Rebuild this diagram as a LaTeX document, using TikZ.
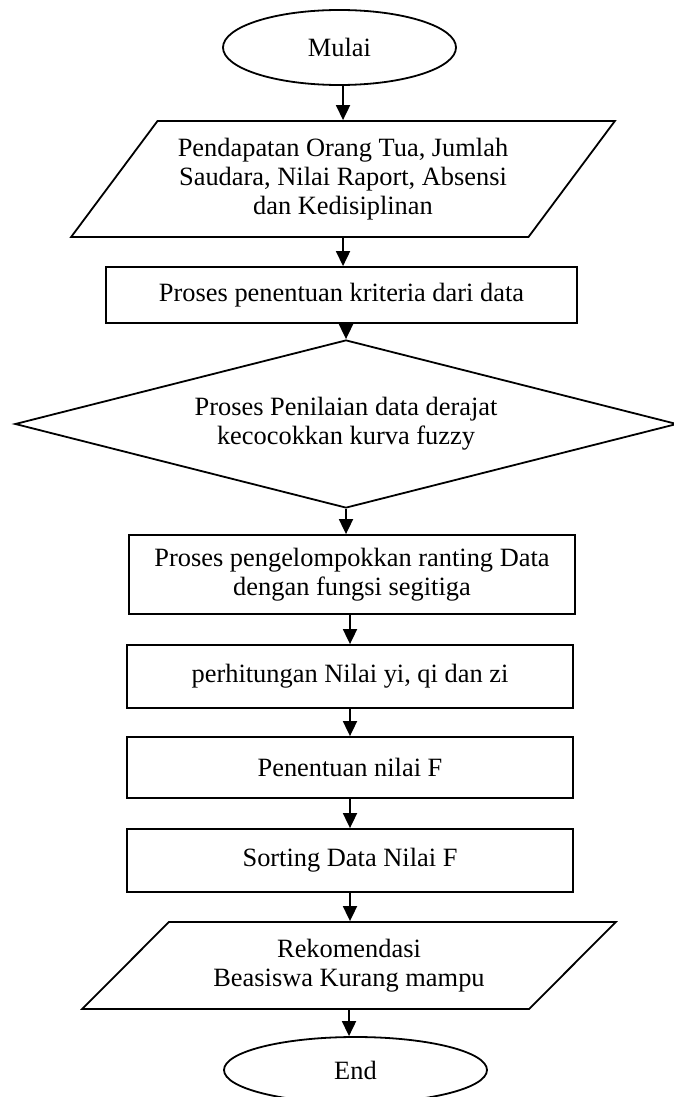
\documentclass[tikz,border=0pt]{standalone}
\usepackage{fontspec}
\setmainfont{Liberation Serif}
\usetikzlibrary{shapes.geometric,arrows.meta}
\begin{document}
\begin{tikzpicture}[x=1pt,y=-1pt]

 \tikzset{
      flowtxt/.style={font=\fontsize{26.4}{29}\selectfont,align=center,inner sep=0pt},
      termstl/.style={flowtxt,draw,line width=1.8pt,ellipse},
      iostl/.style={flowtxt,draw,line width=1.8pt,trapezium,trapezium stretches=true},
      procstl/.style={flowtxt,draw,line width=1.8pt,rectangle},
      decstl/.style={flowtxt,draw,line width=1.8pt,diamond,aspect=3.9},
      flowarr/.style={line width=1.8pt,-{Triangle[length=15pt,width=14pt]}},
    }

 \useasboundingbox (0,0) rectangle (673,1097);

 \node[termstl,minimum width=233pt,minimum height=75pt] (start) at (339.5,47.5) {Mulai};

 \node[iostl,trapezium left angle=46.8,trapezium right angle=133.2,
   minimum width=545pt,minimum height=116pt] (input) at (343,179)
   {Pendapatan Orang Tua, Jumlah\\Saudara, Nilai Raport, Absensi\\dan Kedisiplinan};

 \node[procstl,minimum width=471pt,minimum height=56pt] (crit) at (341.5,295)
   {Proses penentuan kriteria dari data};

 \node[decstl,minimum width=662pt,minimum height=168pt] (fuzzy) at (346,424)
   {Proses Penilaian data derajat\\kecocokkan kurva fuzzy};

 \node[procstl,minimum width=446pt,minimum height=79pt] (group) at (352,574.5)
   {Proses pengelompokkan ranting Data\\dengan fungsi segitiga};

 \node[procstl,minimum width=446pt,minimum height=63pt] (calc) at (350,676.5)
   {perhitungan Nilai yi, qi dan zi};

 \node[procstl,minimum width=446pt,minimum height=61pt] (fval) at (350,767.5)
   {Penentuan nilai F};

 \node[procstl,minimum width=446pt,minimum height=63pt] (sort) at (350,860.5)
   {Sorting Data Nilai F};

 \node[iostl,trapezium left angle=39.1,trapezium right angle=140.9,
   minimum width=534pt,minimum height=87pt] (output) at (349,965.5)
   {Rekomendasi\\Beasiswa Kurang mampu};

 \node[termstl,minimum width=263pt,minimum height=66pt] (finish) at (355.5,1070) {End};

 % arrows go straight down from each shape
 \draw[flowarr] (start.south -| input.north) -- (input.north);
 \draw[flowarr] (input.south) -- (input.south |- crit.north);
 \draw[flowarr] (crit.south -| fuzzy.north) -- (fuzzy.north);
 \draw[flowarr] (fuzzy.south) -- (fuzzy.south |- group.north);
 \draw[flowarr] (group.south -| calc.north) -- (calc.north);
 \draw[flowarr] (calc.south) -- (fval.north);
 \draw[flowarr] (fval.south) -- (sort.north);
 \draw[flowarr] (sort.south) -- (sort.south |- output.north);
 \draw[flowarr] (output.south) -- (output.south |- finish.north);
\end{tikzpicture}
\end{document}
